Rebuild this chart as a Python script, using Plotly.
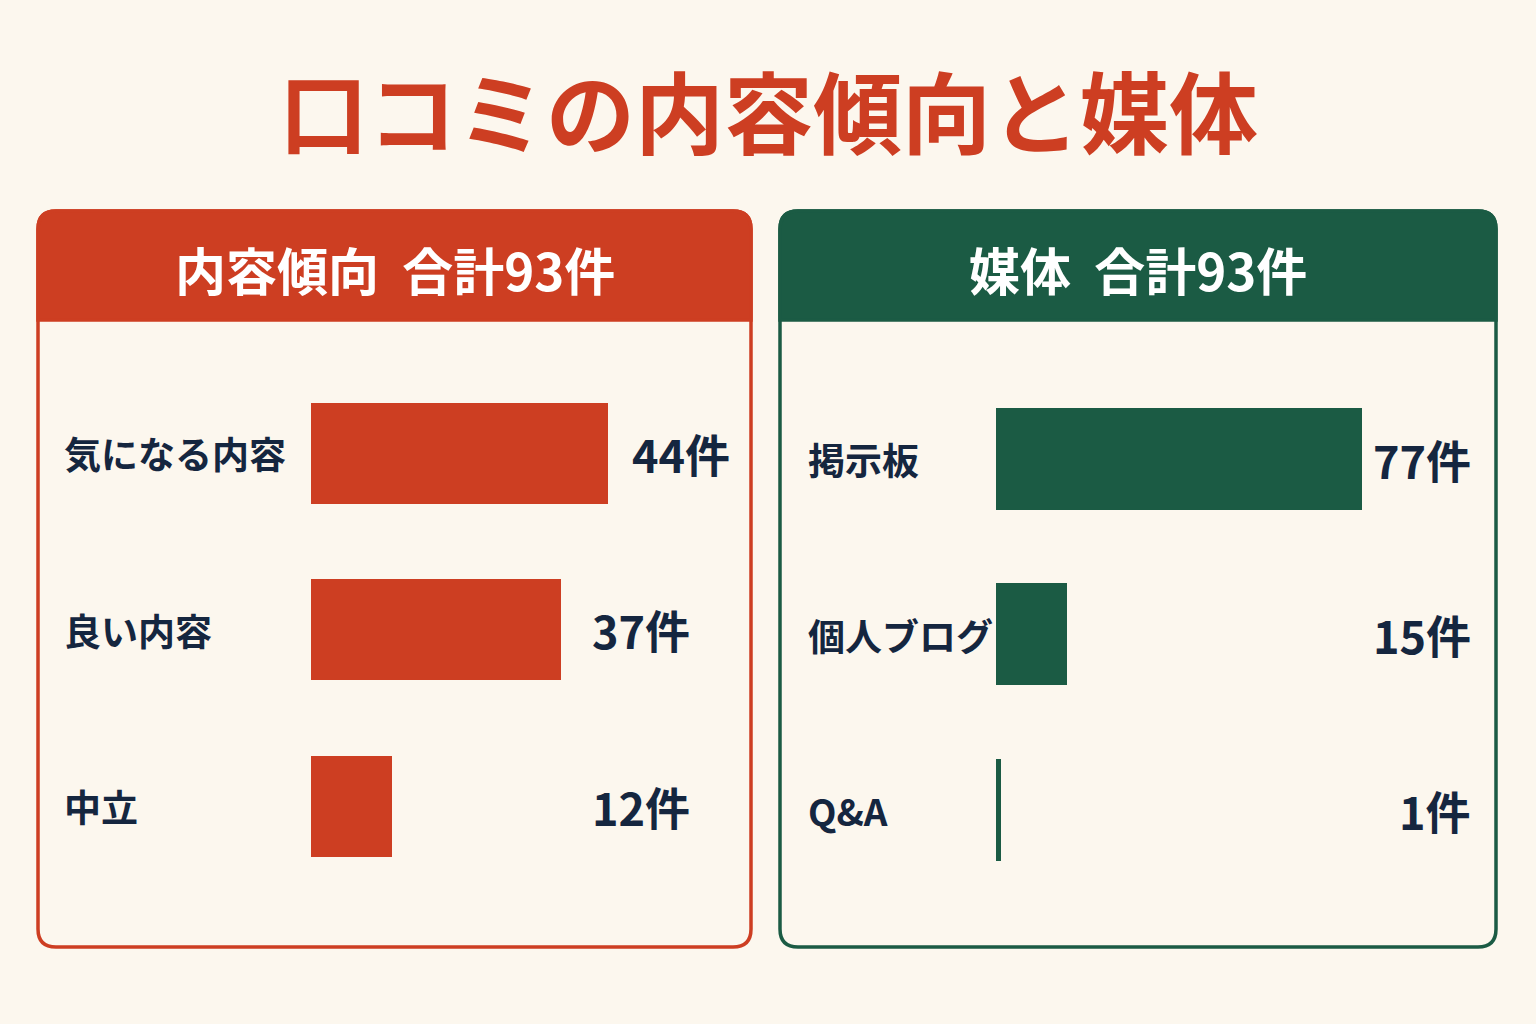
import plotly.graph_objects as go

# ---- data ----
content_cats = ["気になる内容", "良い内容", "中立"]
content_vals = [44, 37, 12]
media_cats = ["掲示板", "個人ブログ", "Q&A"]
media_vals = [77, 15, 1]
title_text = "口コミの内容傾向と媒体"
left_header = "内容傾向  合計93件"
right_header = "媒体  合計93件"
unit = "件"

# ---- styling ----
W, H = 1536, 1024
BG = "#FCF7EE"
RED = "#CD3E22"
GREEN = "#1B5B44"
NAVY = "#15263F"
FONT = "Noto Sans CJK JP"


def px(x):
    return x / W


def py(y):
    return 1 - y / H


def rounded_path(x0, y0, x1, y1, r, top_only=False):
    pts = []
    pts.append(f"M {px(x0)},{py(y0 + r)}")
    pts.append(f"Q {px(x0)},{py(y0)} {px(x0 + r)},{py(y0)}")
    pts.append(f"L {px(x1 - r)},{py(y0)}")
    pts.append(f"Q {px(x1)},{py(y0)} {px(x1)},{py(y0 + r)}")
    if top_only:
        pts.append(f"L {px(x1)},{py(y1)}")
        pts.append(f"L {px(x0)},{py(y1)}")
    else:
        pts.append(f"L {px(x1)},{py(y1 - r)}")
        pts.append(f"Q {px(x1)},{py(y1)} {px(x1 - r)},{py(y1)}")
        pts.append(f"L {px(x0 + r)},{py(y1)}")
        pts.append(f"Q {px(x0)},{py(y1)} {px(x0)},{py(y1 - r)}")
    pts.append("Z")
    return " ".join(pts)


panels = [
    dict(x0=38, x1=751, color=RED, header=left_header),
    dict(x0=780, x1=1496, color=GREEN, header=right_header),
]
PY0, PY1, HEAD = 211, 947, 320

shapes = []
annotations = []
for p in panels:
    shapes.append(dict(type="path", xref="paper", yref="paper",
                       path=rounded_path(p["x0"], PY0, p["x1"], PY1, 18),
                       fillcolor=BG, line=dict(color=p["color"], width=3.5),
                       layer="below"))
    shapes.append(dict(type="path", xref="paper", yref="paper",
                       path=rounded_path(p["x0"], PY0, p["x1"], HEAD, 18, top_only=True),
                       fillcolor=p["color"], line=dict(color=p["color"], width=3.5),
                       layer="below"))
    annotations.append(dict(text=p["header"], xref="paper", yref="paper",
                            x=px((p["x0"] + p["x1"]) / 2), y=py(269),
                            xanchor="center", yanchor="middle", showarrow=False,
                            font=dict(family=FONT, size=51, color="white", weight=700)))

annotations.append(dict(text=title_text, xref="paper", yref="paper",
                        x=0.5, y=py(108), xanchor="center", yanchor="middle",
                        showarrow=False,
                        font=dict(family=FONT, size=89, color=RED, weight=700)))

# axes geometry (pixels)
L_X0, L_X1, L_MAX = 311, 608, max(content_vals)
R_X0, R_X1, R_MAX = 996, 1362, max(media_vals)

fig = go.Figure()
fig.add_trace(go.Bar(x=content_vals, y=content_cats, orientation="h",
                     marker=dict(color=RED, line=dict(width=0)), width=0.575,
                     xaxis="x", yaxis="y", hoverinfo="skip"))
fig.add_trace(go.Bar(x=media_vals, y=media_cats, orientation="h",
                     marker=dict(color=GREEN, line=dict(width=0)), width=0.58,
                     xaxis="x2", yaxis="y2", hoverinfo="skip"))

for c, v in zip(content_cats, content_vals):
    annotations.append(dict(text=c, xref="paper", yref="y", x=px(62), y=c,
                            xanchor="left", yanchor="middle", showarrow=False,
                            font=dict(family=FONT, size=37, color=NAVY, weight=700)))
    end_px = L_X0 + v / L_MAX * (L_X1 - L_X0)
    annotations.append(dict(text=f"{v}{unit}", xref="paper", yref="y",
                            x=px(max(end_px + 22, 590)), y=c,
                            xanchor="left", yanchor="middle", showarrow=False,
                            font=dict(family=FONT, size=45, color=NAVY, weight=700)))
for c, v in zip(media_cats, media_vals):
    annotations.append(dict(text=c, xref="paper", yref="y2", x=px(806), y=c,
                            xanchor="left", yanchor="middle", showarrow=False,
                            font=dict(family=FONT, size=37, color=NAVY, weight=700)))
    annotations.append(dict(text=f"{v}{unit}", xref="paper", yref="y2",
                            x=px(1473), y=c,
                            xanchor="right", yanchor="middle", showarrow=False,
                            font=dict(family=FONT, size=45, color=NAVY, weight=700)))

fig.update_layout(
    width=W, height=H, autosize=False,
    margin=dict(l=0, r=0, t=0, b=0),
    paper_bgcolor=BG, plot_bgcolor="rgba(0,0,0,0)",
    showlegend=False, bargap=0,
    shapes=shapes, annotations=annotations,
    xaxis=dict(domain=[px(L_X0), px(L_X1)], range=[0, L_MAX], visible=False, fixedrange=True),
    yaxis=dict(domain=[py(894.25), py(364.75)], type="category",
               categoryorder="array", categoryarray=content_cats,
               range=[2.5, -0.5], visible=False, fixedrange=True),
    xaxis2=dict(domain=[px(R_X0), px(R_X1)], range=[0, R_MAX], visible=False,
                anchor="y2", fixedrange=True),
    yaxis2=dict(domain=[py(897.75), py(371.25)], type="category",
                categoryorder="array", categoryarray=media_cats,
                range=[2.5, -0.5], visible=False, anchor="x2", fixedrange=True),
)

fig.write_html(
    "out.html",
    config={"displayModeBar": False},
    post_script=f"document.body.style.margin='0';document.body.style.background='{BG}';",
)
